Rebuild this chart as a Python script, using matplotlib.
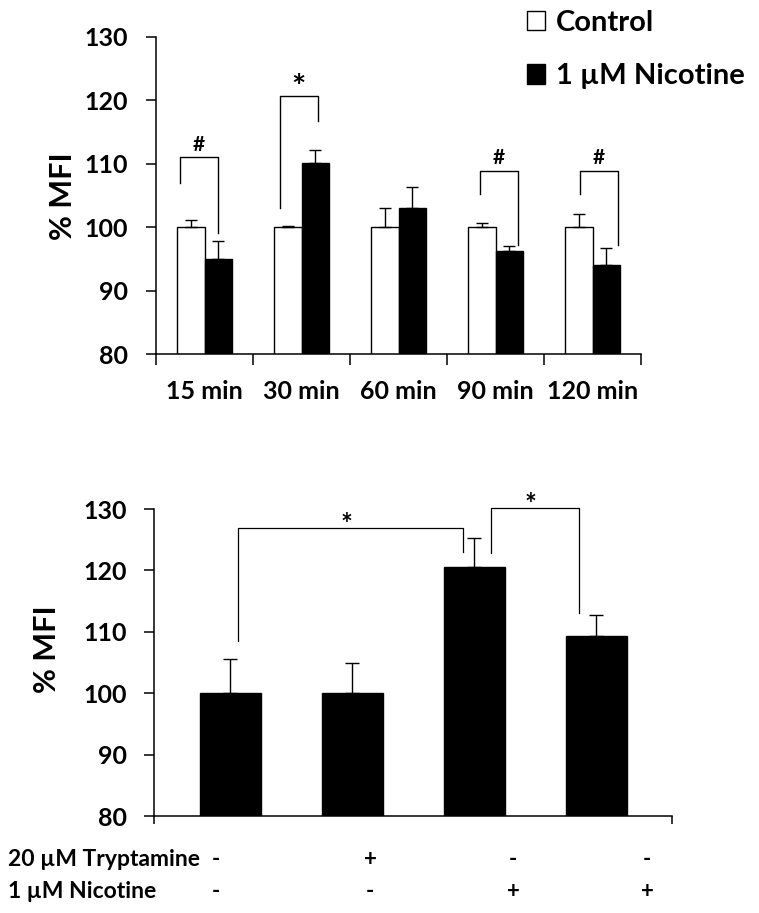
import matplotlib

matplotlib.use("Agg")
import matplotlib.pyplot as plt
import numpy as np

plt.rcParams["font.family"] = ["Lato", "DejaVu Sans"]
plt.rcParams["font.weight"] = "bold"

# top panel: time course, control vs nicotine
TIMES = ["15 min", "30 min", "60 min", "90 min", "120 min"]
CONTROL = [100.0, 100.0, 100.0, 100.0, 100.0]
CONTROL_ERR = [1.1, 0.2, 3.0, 0.7, 2.1]
NICOTINE = [95.0, 110.2, 103.0, 96.3, 94.0]
NICOTINE_ERR = [2.9, 1.9, 3.3, 0.8, 2.7]

# significance brackets (group, left leg y, top y, right leg y, mark)
TOP_SIG_GROUP = [0, 1, 3, 4]
TOP_SIG_LEFT_Y = [107.0, 103.1, 105.2, 105.2]
TOP_SIG_TOP_Y = [111.0, 120.7, 108.9, 108.9]
TOP_SIG_RIGHT_Y = [99.1, 116.8, 97.2, 97.2]
TOP_SIG_MARK = ["#", "*", "#", "#"]

# bottom panel: tryptamine / nicotine combinations
COMBO_MEAN = [100.0, 100.0, 120.5, 109.3]
COMBO_ERR = [5.5, 4.9, 4.7, 3.5]
TRYPTAMINE_SIGN = ["-", "+", "-", "-"]
NICOTINE_SIGN = ["-", "-", "+", "+"]

BOT_SIG_LEFT_X = [0.06, 2.14]
BOT_SIG_RIGHT_X = [1.91, 2.86]
BOT_SIG_LEFT_Y = [108.5, 122.8]
BOT_SIG_TOP_Y = [126.9, 130.2]
BOT_SIG_RIGHT_Y = [123.0, 113.1]

# layout-only offsets (fractions of a group) for the top brackets
TOP_LEG_OFFSETS = [(-0.253, 0.136), (-0.222, 0.167), (-0.16, 0.229), (-0.129, 0.263)]
SIGN_X = [-0.12, 1.145, 2.32, 3.42]
BOT_STAR_X = [0.95, 2.46]

fig = plt.figure(figsize=(7.59, 9.13), dpi=100)


def _style_axis(ax):
    ax.spines["top"].set_visible(False)
    ax.spines["right"].set_visible(False)
    ax.spines["left"].set_linewidth(1.1)
    ax.spines["bottom"].set_linewidth(1.1)
    ax.set_ylim(80, 130)
    ax.set_yticks([80, 90, 100, 110, 120, 130])
    ax.tick_params(axis="y", direction="out", length=7, width=1.1, pad=13, labelsize=18)
    for lab in ax.get_yticklabels():
        lab.set_fontweight("bold")


# ---- top panel ----
ax1 = fig.add_axes([156 / 759, 1 - 354 / 913, 485 / 759, 317 / 913])
x = np.arange(len(TIMES))
w = 0.28
ax1.bar(x - w / 2, CONTROL, w, color="white", edgecolor="black", linewidth=1.0,
        label="Control", zorder=2)
ax1.bar(x + w / 2, NICOTINE, w, color="black", edgecolor="black", linewidth=1.0,
        label="1 µM Nicotine", zorder=2)
ax1.errorbar(x - w / 2, CONTROL, yerr=[np.zeros(len(x)), CONTROL_ERR], fmt="none",
             ecolor="black", elinewidth=1.0, capsize=4, capthick=1.0, zorder=3)
ax1.errorbar(x + w / 2, NICOTINE, yerr=[np.zeros(len(x)), NICOTINE_ERR], fmt="none",
             ecolor="black", elinewidth=1.0, capsize=4, capthick=1.0, zorder=3)
_style_axis(ax1)
ax1.set_xlim(-0.5, len(TIMES) - 0.5)
ax1.set_xticks(np.arange(len(TIMES) + 1) - 0.5)
ax1.set_xticklabels([])
ax1.set_xticks(x, minor=True)
ax1.set_xticklabels(TIMES, minor=True, fontsize=18, fontweight="bold")
ax1.tick_params(axis="x", which="major", direction="out", length=8, width=1.1)
ax1.tick_params(axis="x", which="minor", length=0, pad=19)
ax1.set_ylabel("% MFI", fontsize=22, fontweight="bold")
ax1.yaxis.set_label_coords(-0.163, 0.498)

for g, (lo, ro), yl, yt, yr, mark in zip(TOP_SIG_GROUP, TOP_LEG_OFFSETS, TOP_SIG_LEFT_Y,
                                          TOP_SIG_TOP_Y, TOP_SIG_RIGHT_Y, TOP_SIG_MARK):
    xl, xr = g + lo, g + ro
    ax1.plot([xl, xl, xr, xr], [yl, yt, yt, yr], color="black", lw=1.0, clip_on=False)
    if mark == "*":
        ax1.text((xl + xr) / 2, yt - 0.3, mark, ha="center", va="baseline", fontsize=24,
                 fontweight="bold")
    else:
        ax1.text((xl + xr) / 2, yt + 1.0, mark, ha="center", va="baseline", fontsize=15,
                 fontweight="bold")

ax1.legend(loc="upper left", bbox_to_anchor=(527 / 759, 1 - 10 / 913),
           bbox_transform=fig.transFigure, frameon=False, borderpad=0, borderaxespad=0,
           handlelength=0.62, handleheight=0.65, handletextpad=0.36, labelspacing=0.94,
           prop={"size": 21, "weight": "bold"})

# ---- bottom panel ----
ax2 = fig.add_axes([154.3 / 759, 1 - 816 / 913, 518 / 759, 307 / 913])
xb = np.arange(len(COMBO_MEAN))
ax2.bar(xb, COMBO_MEAN, 0.5, color="black", edgecolor="black", zorder=2)
ax2.errorbar(xb, COMBO_MEAN, yerr=[np.zeros(len(xb)), COMBO_ERR], fmt="none",
             ecolor="black", elinewidth=1.0, capsize=5, capthick=1.0, zorder=3)
_style_axis(ax2)
ax2.set_xlim(-0.625, len(COMBO_MEAN) - 0.375)
ax2.set_xticks([-0.625, len(COMBO_MEAN) - 0.375])
ax2.set_xticklabels([])
ax2.tick_params(axis="x", direction="out", length=6, width=1.1)
ax2.set_ylabel("% MFI", fontsize=22, fontweight="bold")
ax2.yaxis.set_label_coords(-0.180, 0.544)

for sx, xl, xr, yl, yt, yr in zip(BOT_STAR_X, BOT_SIG_LEFT_X, BOT_SIG_RIGHT_X,
                                  BOT_SIG_LEFT_Y, BOT_SIG_TOP_Y, BOT_SIG_RIGHT_Y):
    ax2.plot([xl, xl, xr, xr], [yl, yt, yt, yr], color="black", lw=0.9, clip_on=False)
    ax2.text(sx, yt - 0.8, "*", ha="center", va="baseline", fontsize=20, fontweight="bold")

trans = ax2.get_xaxis_transform()
ax2.text(-0.625 - 146 / 121.8, -0.143, "20 µM Tryptamine", transform=trans, ha="left",
         va="center", fontsize=16.5, fontweight="bold", clip_on=False)
ax2.text(-0.625 - 146 / 121.8, -0.247, "1 µM Nicotine", transform=trans, ha="left",
         va="center", fontsize=16.5, fontweight="bold", clip_on=False)
for sx, ts, ns in zip(SIGN_X, TRYPTAMINE_SIGN, NICOTINE_SIGN):
    ax2.text(sx, -0.143, ts, transform=trans, ha="center", va="center", fontsize=16,
             fontweight="bold")
    ax2.text(sx, -0.247, ns, transform=trans, ha="center", va="center", fontsize=16,
             fontweight="bold")

fig.savefig("out.png", dpi=100)
